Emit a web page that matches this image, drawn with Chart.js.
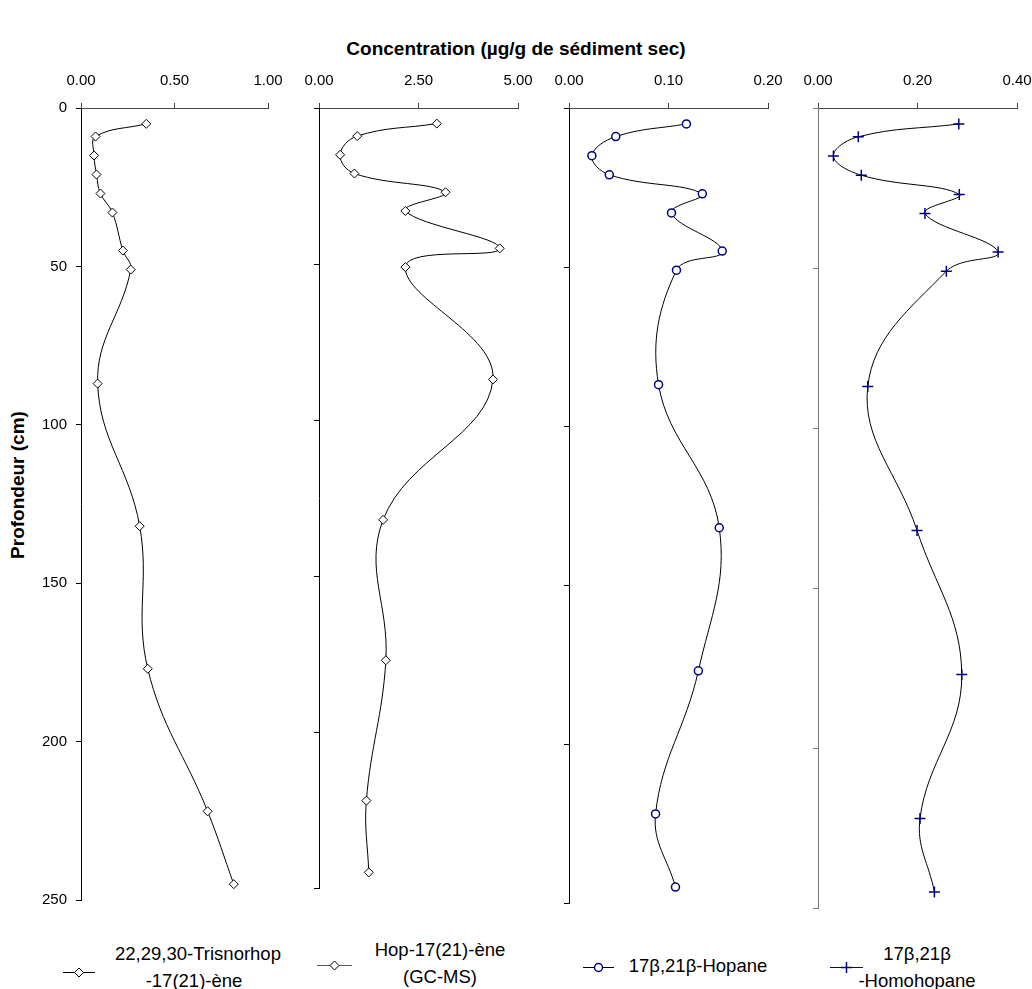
<!DOCTYPE html>
<html><head><meta charset="utf-8">
<script src="https://cdn.jsdelivr.net/npm/chart.js@4.4.0/dist/chart.umd.min.js"></script>
<style>
html,body{margin:0;padding:0;width:1032px;height:989px;overflow:hidden;background:#fff;font-family:'Liberation Sans',Arial,sans-serif;}
canvas{position:absolute;left:0;top:0;}
.t{position:absolute;white-space:nowrap;color:#000;line-height:22px;}
.lg{font-size:18.5px;width:300px;text-align:center;}
#legendSvg{position:absolute;left:0;top:0;}
</style></head><body>
<div class="t" style="left:216px;top:38px;width:600px;text-align:center;font-size:19px;font-weight:bold;">Concentration (µg/g de sédiment sec)</div>
<div class="t" style="left:-132px;top:474px;width:300px;text-align:center;font-size:19px;font-weight:bold;transform:rotate(-90deg);transform-origin:150px 11px;">Profondeur (cm)</div>

<div class="t lg" style="left:48px;top:943px;">22,29,30-Trisnorhop</div>
<div class="t lg" style="left:44px;top:970px;">-17(21)-ène</div>
<div class="t lg" style="left:290px;top:939px;">Hop-17(21)-ène</div>
<div class="t lg" style="left:290px;top:966px;">(GC-MS)</div>
<div class="t lg" style="left:548px;top:955px;">17β,21β-Hopane</div>
<div class="t lg" style="left:767px;top:943px;">17β,21β</div>
<div class="t lg" style="left:767px;top:970px;">-Homohopane</div>

<svg id="legendSvg" width="1032" height="989">
  <line x1="63" y1="972.5" x2="95" y2="972.5" stroke="#000" stroke-width="1"/>
  <polygon points="74.5,972.5 79,968 83.5,972.5 79,977" fill="#fff" stroke="#000" stroke-width="1"/>
  <line x1="317" y1="965.5" x2="352" y2="965.5" stroke="#555" stroke-width="1"/>
  <polygon points="330,965.5 334.5,961 339,965.5 334.5,970" fill="#fff" stroke="#000" stroke-width="1"/>
  <line x1="583" y1="967.5" x2="614" y2="967.5" stroke="#000" stroke-width="1"/>
  <circle cx="598.5" cy="967.5" r="4" fill="#fff" stroke="#000080" stroke-width="1.5"/>
  <line x1="830" y1="967.5" x2="863" y2="967.5" stroke="#000080" stroke-width="1"/>
  <line x1="846.5" y1="962" x2="846.5" y2="973" stroke="#000080" stroke-width="1.5"/>
  <line x1="841" y1="967.5" x2="852" y2="967.5" stroke="#000080" stroke-width="1.5"/>
</svg>

<script>
// Depth of each sample (cm)
const depthCm = [5, 9, 15, 21, 27, 33, 45, 51, 87, 132, 177, 222, 245];
// Concentrations (µg/g dry sediment)
const trisnorhopene = [0.349, 0.078, 0.070, 0.083, 0.104, 0.168, 0.224, 0.266, 0.089, 0.314, 0.357, 0.677, 0.817];
const hopene = [2.96, 0.96, 0.53, 0.89, 3.18, 2.17, 4.54, 2.17, 4.37, 1.61, 1.68, 1.19, 1.25];
const hopane = [0.118, 0.047, 0.023, 0.0405, 0.134, 0.103, 0.154, 0.108, 0.090, 0.151, 0.130, 0.087, 0.107];
const homohopane = [0.283, 0.081, 0.031, 0.087, 0.284, 0.215, 0.362, 0.258, 0.100, 0.199, 0.289, 0.205, 0.234];
// Axis tick definitions
const xMax = [1.0, 5.0, 0.20, 0.40];
const xStep = [0.5, 2.5, 0.10, 0.20];
const depthMax = 250, depthStep = 50;

const FONT = "'Liberation Sans', Arial, sans-serif";
const CW = 1100, CH = 989;
const series = [trisnorhopene, hopene, hopane, homohopane];
const layoutBoxes = [
  {L:81, R:268, B:900},
  {L:319, R:518, B:888},
  {L:569, R:768, B:903},
  {L:818, R:1017, B:908}
];
const styles = [
  {pt:'rectRot', r:4.5, c:'#000', bw:1, yc:'#000'},
  {pt:'rectRot', r:4.5, c:'#000', bw:1, yc:'#000'},
  {pt:'circle', r:4, c:'#000080', bw:1.5, yc:'#000'},
  {pt:'cross', r:5.5, c:'#000080', bw:1.5, yc:'#777'}
];

series.forEach((vals, k) => {
  const box = layoutBoxes[k], st = styles[k];
  const cv = document.createElement('canvas');
  cv.width = CW; cv.height = CH;
  cv.style.width = CW + 'px'; cv.style.height = CH + 'px';
  document.body.insertBefore(cv, document.getElementById('legendSvg'));
  new Chart(cv, {
    type: 'scatter',
    data: { datasets: [{
      data: depthCm.map((d, i) => ({x: vals[i], y: d})),
      showLine: true,
      borderColor: '#000',
      borderWidth: 1,
      tension: 0.4,
      pointStyle: st.pt,
      pointRadius: st.r,
      pointBorderColor: st.c,
      pointBackgroundColor: '#fff',
      pointBorderWidth: st.bw,
      clip: false
    }]},
    options: {
      responsive: false,
      animation: false,
      events: [],
      devicePixelRatio: 1,
      layout: { padding: { left: box.L - 50, top: 68, right: CW - box.R, bottom: CH - box.B } },
      plugins: { legend: {display: false}, tooltip: {enabled: false} },
      scales: {
        x: {
          type: 'linear', position: 'top', min: 0, max: xMax[k],
          ticks: { stepSize: xStep[k], callback: v => Number(v).toFixed(2), font: {size: 15, family: FONT}, color: '#000', padding: 13, maxRotation: 0, autoSkip: false },
          grid: { drawOnChartArea: false, drawTicks: true, tickLength: 5, tickColor: '#444', lineWidth: 1 },
          border: { display: true, color: '#444', width: 1 },
          afterFit: s => { s.height = 40; }
        },
        y: {
          type: 'linear', position: 'left', reverse: true, min: 0, max: depthMax,
          ticks: { stepSize: depthStep, display: k === 0, font: {size: 15, family: FONT}, color: '#000', padding: 9 },
          grid: { drawOnChartArea: false, drawTicks: true, tickLength: 5, tickColor: st.yc, lineWidth: 1 },
          border: { display: true, color: st.yc, width: 1 },
          afterFit: s => { s.width = 50; }
        }
      }
    }
  });
});
</script>
</body></html>
